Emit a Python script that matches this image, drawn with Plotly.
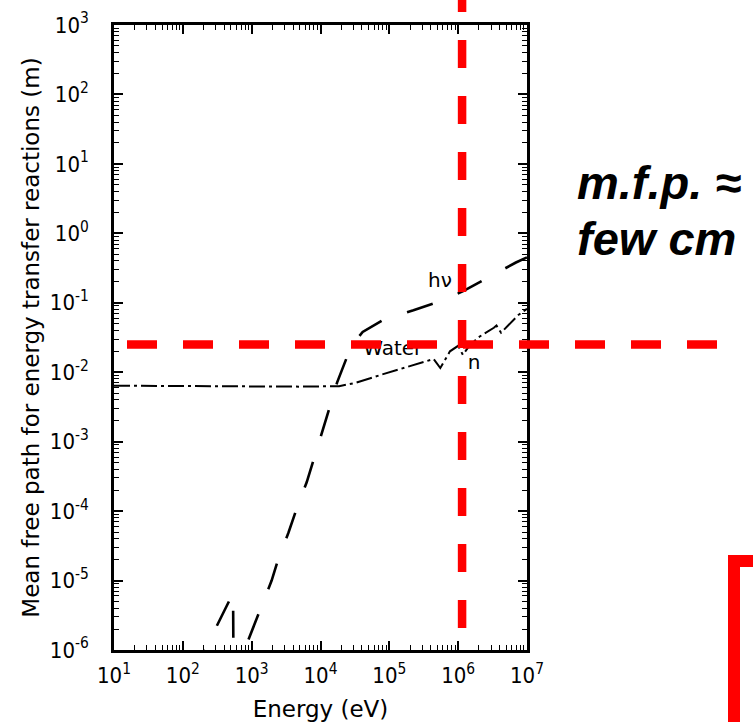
import plotly.graph_objects as go

# ---- data ----
photon_energy_eV = [140, 210, 537, 545, 890, 1350, 1950, 2400, 3400, 4700, 6300,
                    14800, 17400, 24500, 30000, 41000, 87000, 224000, 550000,
                    1.2e6, 3.0e6, 6.9e6, 1.0e7]
photon_mfp_m = [4.5e-7, 1.0e-6, 6.6e-6, 4.0e-7, 1.38e-6, 3.7e-6, 1.0e-5, 1.95e-5,
                4.8e-5, 1.23e-4, 2.6e-4, 4.1e-3, 7.1e-3, 0.017, 0.026, 0.038, 0.059,
                0.078, 0.105, 0.148, 0.245, 0.38, 0.45]

neutron_energy_eV = [10, 100, 1000, 5000, 18600, 32000, 79000, 220000, 440000,
                     550000, 760000, 1.0e6, 1.17e6, 1.38e6, 1.95e6, 3.3e6, 3.6e6,
                     4.2e6, 7.4e6, 9.5e6, 1.0e7]
neutron_mfp_m = [6.4e-3, 6.3e-3, 6.2e-3, 6.2e-3, 6.3e-3, 7.0e-3, 9.3e-3, 0.0126,
                 0.0155, 0.0115, 0.020, 0.024, 0.0178, 0.0224, 0.0316, 0.0437,
                 0.047, 0.037, 0.066, 0.079, 0.082]

x_tick_exponents = [1, 2, 3, 4, 5, 6, 7]
y_tick_exponents = [-6, -5, -4, -3, -2, -1, 0, 1, 2, 3]

label_names = ["h\u03bd", "Water", "n"]
label_energy_eV = [5.45e5, 1.12e5, 1.7e6]
label_mfp_m = [0.20, 0.021, 0.0131]

marker_energy_eV = 1.14e6     # red vertical marker
marker_mfp_m = 0.025          # red horizontal marker (few cm)

# ---- figure ----
W, H = 753, 722
L, R, T, B = 114, 527, 25, 650

def px_x(p):
    return (p - L) / (R - L)

def px_y(p):
    return (B - p) / (B - T)

fig = go.Figure()

fig.add_trace(go.Scatter(
    x=photon_energy_eV, y=photon_mfp_m, mode="lines",
    line=dict(color="black", width=2.6, dash="27px,27px"),
    showlegend=False, hoverinfo="skip"))

fig.add_trace(go.Scatter(
    x=neutron_energy_eV, y=neutron_mfp_m, mode="lines",
    line=dict(color="black", width=2.0, dash="16px,4px,3px,4px"),
    showlegend=False, hoverinfo="skip"))

fig.add_trace(go.Scatter(
    x=label_energy_eV, y=label_mfp_m, mode="text", text=label_names,
    textfont=dict(family="DejaVu Sans", size=20, color="black"),
    textposition="middle center", showlegend=False, hoverinfo="skip"))

red = "#ff0000"
# vertical dashed marker
fig.add_shape(type="line", xref="x", yref="paper",
              x0=marker_energy_eV, x1=marker_energy_eV,
              y0=px_y(-16), y1=px_y(628),
              line=dict(color=red, width=8.5, dash="28px,28px"), layer="above")
# horizontal dashed marker
fig.add_shape(type="line", xref="paper", yref="y",
              x0=px_x(127), x1=px_x(717),
              y0=marker_mfp_m, y1=marker_mfp_m,
              line=dict(color=red, width=8.5, dash="30px,26px"), layer="above")
# red bracket at bottom right
bx, by_top, by_bot, bx_end = px_x(734), px_y(561), px_y(730), px_x(762)
fig.add_shape(type="path", xref="paper", yref="paper",
              path=f"M {bx} {by_bot} L {bx} {by_top} L {bx_end} {by_top}",
              line=dict(color=red, width=12), layer="above")

fig.add_annotation(xref="paper", yref="paper", x=px_x(575), y=px_y(182),
                   xanchor="left", yanchor="middle", showarrow=False,
                   text="<b><i>m.f.p. \u2248</i></b>",
                   font=dict(family="Liberation Sans", size=47, color="black"))
fig.add_annotation(xref="paper", yref="paper", x=px_x(575), y=px_y(238),
                   xanchor="left", yanchor="middle", showarrow=False,
                   text="<b><i>few cm</i></b>",
                   font=dict(family="Liberation Sans", size=47, color="black"))

tick_font = dict(family="Liberation Sans Narrow, DejaVu Sans Condensed, Liberation Sans",
                 size=22, color="black")
axis_common = dict(
    type="log", showgrid=False, zeroline=False,
    showline=True, linecolor="black", linewidth=2.6, mirror="ticks",
    ticks="inside", ticklen=9, tickwidth=1.6, tickcolor="black",
    minor=dict(ticks="inside", ticklen=5, tickwidth=1.3, tickcolor="black",
               dtick="D1", showgrid=False),
    tickfont=tick_font,
)

fig.update_xaxes(
    **axis_common,
    range=[1, 7],
    tickvals=[10 ** e for e in x_tick_exponents],
    ticktext=[f"10<sup>{e}</sup>" for e in x_tick_exponents],
    ticklabelstandoff=4,
    title=dict(text="Energy (eV)", standoff=14,
               font=dict(family="DejaVu Sans", size=23, color="black")),
)
fig.update_yaxes(
    **axis_common,
    range=[-6, 3],
    tickvals=[10.0 ** e for e in y_tick_exponents],
    ticktext=[f"10<sup>{e}</sup>" for e in y_tick_exponents],
    ticklabelstandoff=18,
    title=dict(text="Mean free path for energy transfer reactions (m)", standoff=4,
               font=dict(family="DejaVu Sans", size=23, color="black")),
)

fig.update_layout(
    width=W, height=H,
    margin=dict(l=L, r=W - R, t=T, b=H - B, autoexpand=False),
    paper_bgcolor="white", plot_bgcolor="white",
    showlegend=False,
)

fig.write_html("out.html")
